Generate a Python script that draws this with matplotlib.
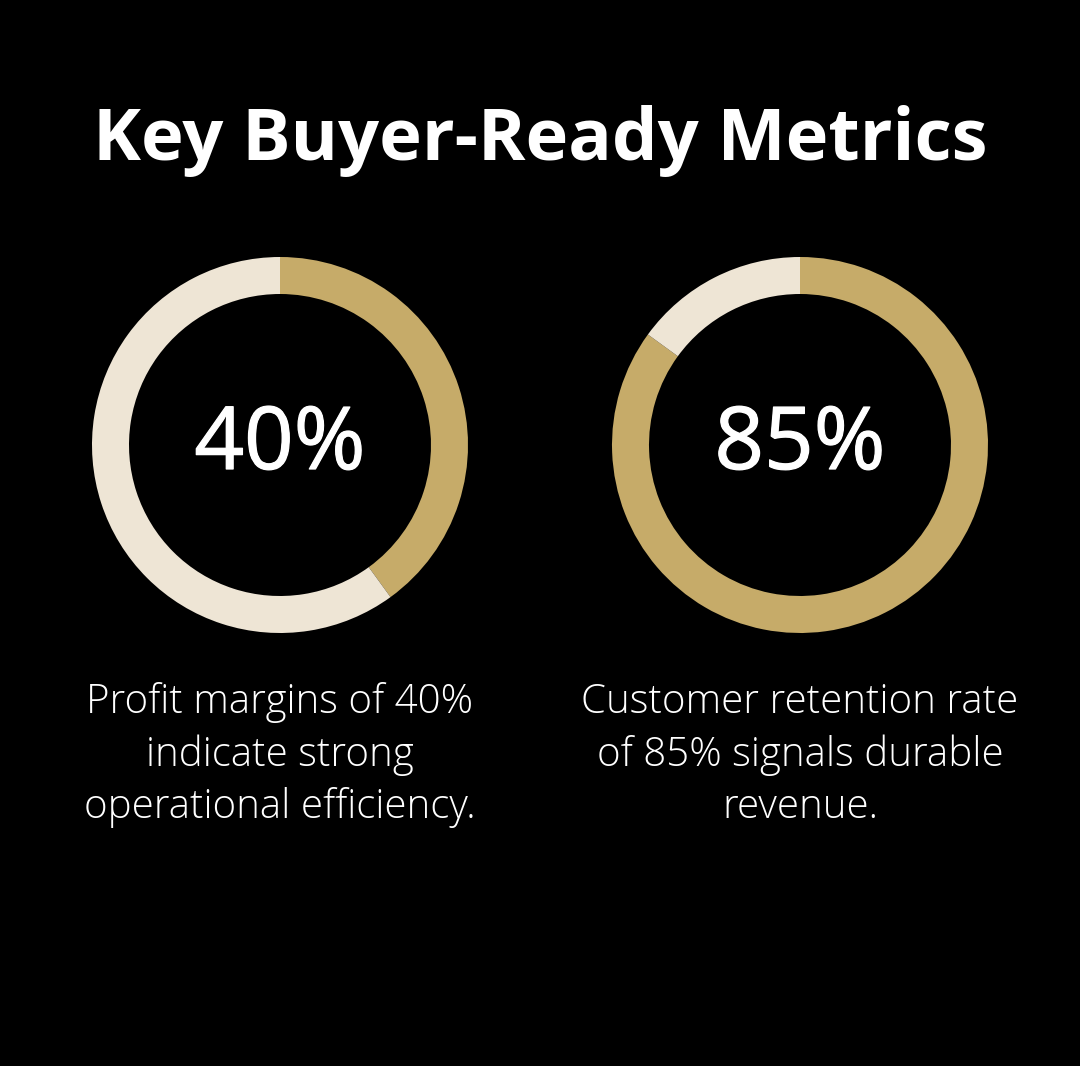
import matplotlib.pyplot as plt
from matplotlib.patches import Wedge
import matplotlib.patheffects as pe

title = "Key Buyer-Ready Metrics"
values = [40, 85]
labels = ["40%", "85%"]
captions = ["Profit margins of 40%\nindicate strong\noperational efficiency.",
            "Customer retention rate\nof 85% signals durable\nrevenue."]

GOLD = "#C6AB69"
CREAM = "#EEE5D5"

W, H = 1080, 1066
fig = plt.figure(figsize=(W / 100, H / 100), dpi=100, facecolor="black")
ax = fig.add_axes([0, 0, 1, 1])
ax.set_xlim(0, W)
ax.set_ylim(H, 0)
ax.set_aspect("equal")
ax.axis("off")
ax.set_facecolor("black")

centers_x = [280, 800]
cy = 445
R = 188
width = 37

for cx, v, lab, cap in zip(centers_x, values, labels, captions):
    start = -90
    end = -90 + 360 * v / 100
    ax.add_patch(Wedge((cx, cy), R, start, end, width=width, facecolor=GOLD, edgecolor="none"))
    ax.add_patch(Wedge((cx, cy), R, end, start + 360, width=width, facecolor=CREAM, edgecolor="none"))
    ax.text(cx, cy + 1, lab, ha="center", va="center", color="white",
            fontsize=62.5, family="Open Sans", fontweight=400,
            path_effects=[pe.withStroke(linewidth=0.9, foreground="white")])
    ax.text(cx, 755, cap, ha="center", va="center", color="white",
            fontsize=29, family="Open Sans", fontweight="light", linespacing=1.37)

ax.text(540, 141, title, ha="center", va="center", color="white",
        fontsize=52, family="Open Sans", fontweight="bold")

fig.savefig("out.png", dpi=100, facecolor="black")
